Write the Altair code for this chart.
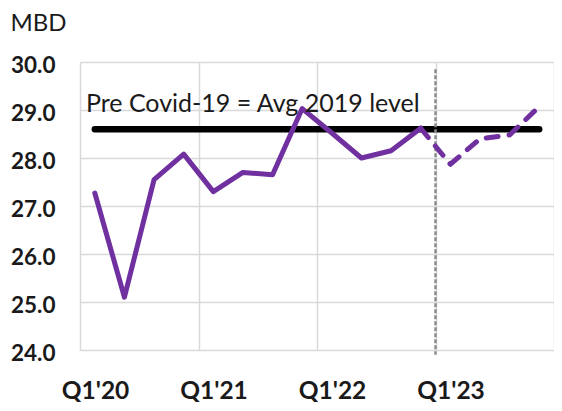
import json
import altair as alt
import pandas as pd

# ---- data ----
quarters = ["Q1'20", "Q2'20", "Q3'20", "Q4'20",
            "Q1'21", "Q2'21", "Q3'21", "Q4'21",
            "Q1'22", "Q2'22", "Q3'22", "Q4'22",
            "Q1'23", "Q2'23", "Q3'23", "Q4'23"]
actual_quarters = quarters[:12]
actual_values = [27.27, 25.10, 27.55, 28.08, 27.30, 27.70, 27.65, 29.03,
                 28.52, 28.00, 28.15, 28.62]
forecast_quarters = quarters[11:]
forecast_values = [28.62, 27.87, 28.40, 28.48, 29.07]
pre_covid_level = 28.6
pre_covid_label = "Pre Covid-19 = Avg 2019 level"
y_ticks = [24, 25, 26, 27, 28, 29, 30]
unit_label = "MBD"
divider_after = "Q4'22"
divider_top, divider_bottom = 29.85, 23.9

# ---- tables ----
pos = {q: i for i, q in enumerate(quarters)}
actual_df = pd.DataFrame({"q": actual_quarters,
                          "i": [pos[q] for q in actual_quarters],
                          "v": actual_values})
forecast_df = pd.DataFrame({"q": forecast_quarters,
                            "i": [pos[q] for q in forecast_quarters],
                            "v": forecast_values})
level_df = pd.DataFrame({"start": [pos[quarters[0]]], "end": [pos[quarters[-1]]],
                         "level": [pre_covid_level]})
divider_df = pd.DataFrame({"x": [pos[divider_after] + 0.5],
                           "top": [divider_top], "bottom": [divider_bottom]})
label_df = pd.DataFrame({"x": [-0.3], "y": [28.96], "t": [pre_covid_label]})

boundaries = [b - 0.5 for b in range(0, len(quarters) + 1, 4)]
label_expr = json.dumps(quarters) + "[datum.value + 0.5] || ''"

PURPLE = "#7030A0"
TXT = "#1a1a1a"
GRID = "#d9d9d9"

x_scale = alt.Scale(domain=[-0.5, len(quarters) - 0.5], nice=False, zero=False)
y_scale = alt.Scale(domain=[24, 30], nice=False, zero=False)

x_axis = alt.Axis(values=boundaries, labelExpr=label_expr, grid=True,
                  ticks=False, tickSize=0, domain=False, labelOffset=15,
                  labelPadding=29, labelFlush=False, labelFont="Lato",
                  labelFontWeight="bold", labelFontSize=24.5, labelColor=TXT,
                  labelBaseline="top",
                  gridColor=GRID, gridWidth=1.5, title=None)
y_axis = alt.Axis(values=y_ticks, format=".1f", grid=True, ticks=False,
                  tickSize=0, domain=False, labelPadding=25, labelFlush=False,
                  labelFont="Lato", labelFontWeight="bold", labelFontSize=22.5,
                  labelColor=TXT, labelOffset=3, gridColor=GRID, gridWidth=1.5,
                  title=unit_label, titleAngle=0, titleX=-70, titleY=-32,
                  titleAlign="left", titleBaseline="alphabetic",
                  titleFont="Lato", titleFontWeight="normal",
                  titleFontSize=24, titleColor=TXT)

base_x = alt.X("i:Q", scale=x_scale, axis=x_axis)
base_y = alt.Y("v:Q", scale=y_scale, axis=y_axis)

frame = alt.Chart(actual_df).mark_line(opacity=0).encode(x=base_x, y=base_y)

level = alt.Chart(level_df).mark_rule(color="black", strokeWidth=6.5,
                                      strokeCap="round").encode(
    x=alt.X("start:Q", scale=x_scale), x2="end:Q",
    y=alt.Y("level:Q", scale=y_scale))

divider = alt.Chart(divider_df).mark_rule(color="#8c8c8c", strokeWidth=2.5,
                                          strokeDash=[4, 2]).encode(
    x=alt.X("x:Q", scale=x_scale),
    y=alt.Y("top:Q", scale=y_scale), y2="bottom:Q")

actual = alt.Chart(actual_df).mark_line(color=PURPLE, strokeWidth=5,
                                        strokeJoin="round", strokeCap="round").encode(
    x=alt.X("i:Q", scale=x_scale), y=alt.Y("v:Q", scale=y_scale))

forecast = alt.Chart(forecast_df).mark_line(color=PURPLE, strokeWidth=5,
                                            strokeDash=[12, 11],
                                            strokeCap="round",
                                            strokeJoin="round").encode(
    x=alt.X("i:Q", scale=x_scale), y=alt.Y("v:Q", scale=y_scale))

label = alt.Chart(label_df).mark_text(align="left", baseline="alphabetic",
                                      font="Lato", fontSize=25,
                                      color=TXT).encode(
    x=alt.X("x:Q", scale=x_scale), y=alt.Y("y:Q", scale=y_scale), text="t:N")

chart = alt.layer(frame, level, divider, actual, forecast, label).properties(
    width=474, height=288,
    autosize=alt.AutoSizeParams(type="none"),
    padding={"left": 72, "top": 54, "right": 0, "bottom": 52},
).configure_view(stroke=None).configure(background="white")

chart.save("out.html", embed_options={"renderer": "svg", "actions": False})
